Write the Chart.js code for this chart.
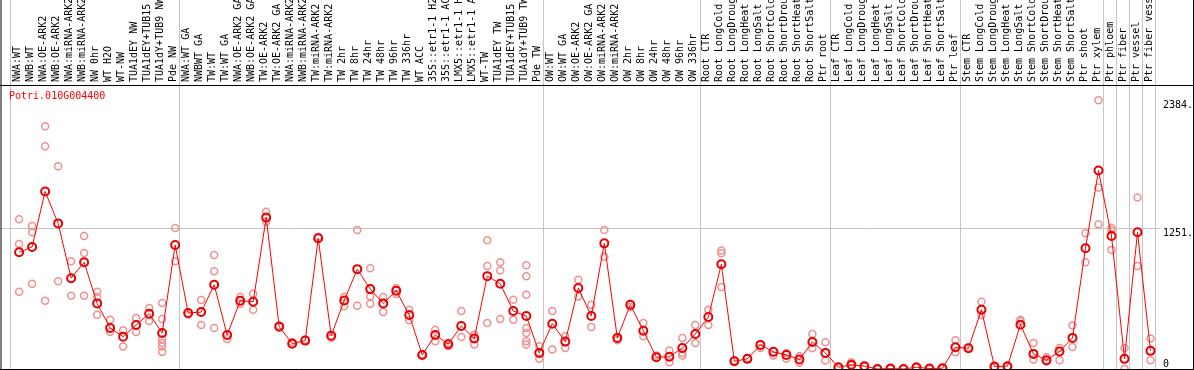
<!DOCTYPE html>
<html>
<head>
<meta charset="utf-8">
<script src="https://cdn.jsdelivr.net/npm/chart.js@4/dist/chart.umd.min.js"></script>
<style>
  body { margin: 0; background: #fff; }
  #wrap { position: relative; width: 1194px; height: 370px; }
  #gene { position: absolute; left: 9px; top: 90px; font: 10px "DejaVu Sans Mono", monospace; line-height: 12px; color: #ff0000; }
</style>
</head>
<body>
<div id="wrap">
  <canvas id="exprChart"></canvas>
  <div id="gene">Potri.010G004400</div>
</div>
<script>
// sample names, left to right
const samples = [
    'NWA:WT', 'NWB:WT', 'NWA:OE-ARK2', 'NWB:OE-ARK2', 'NWA:miRNA-ARK2', 'NWB:miRNA-ARK2', 'NW 0hr', 'WT H2O', 'WT-NW',
    'TUA1dEY NW', 'TUA1dEY+TUB15 NW', 'TUA1dY+TUB9 NW', 'Pde NW',
    'NWA:WT GA', 'NWBWT GA', 'TW:WT', 'TW:WT GA', 'NWA:OE-ARK2 GA', 'NWB:OE-ARK2 GA', 'TW:OE-ARK2', 'TW:OE-ARK2 GA',
    'NWA:miRNA-ARK2', 'NWB:miRNA-ARK2', 'TW:miRNA-ARK2', 'TW:miRNA-ARK2', 'TW 2hr', 'TW 8hr', 'TW 24hr', 'TW 48hr',
    'TW 96hr', 'TW 336hr', 'WT ACC', '35S::etr1-1 H2O', '35S::etr1-1 ACC', 'LMX5::etr1-1 H2O', 'LMX5::etr1-1 ACC',
    'WT-TW', 'TUA1dEY TW', 'TUA1dEY+TUB15 TW', 'TUA1dY+TUB9 TW', 'Pde TW',
    'OW:WT', 'OW:WT GA', 'OW:OE-ARK2', 'OW:OE-ARK2 GA', 'OW:miRNA-ARK2', 'OW:miRNA-ARK2', 'OW 2hr', 'OW 8hr',
    'OW 24hr', 'OW 48hr', 'OW 96hr', 'OW 336hr',
    'Root CTR', 'Root LongCold', 'Root LongDrought', 'Root LongHeat', 'Root LongSalt', 'Root ShortCold',
    'Root ShortDrought', 'Root ShortHeat', 'Root ShortSalt', 'Ptr root',
    'Leaf CTR', 'Leaf LongCold', 'Leaf LongDrought', 'Leaf LongHeat', 'Leaf LongSalt', 'Leaf ShortCold',
    'Leaf ShortDrought', 'Leaf ShortHeat', 'Leaf ShortSalt', 'Ptr leaf',
    'Stem CTR', 'Stem LongCold', 'Stem LongDrought', 'Stem LongHeat', 'Stem LongSalt', 'Stem ShortCold',
    'Stem ShortDrought', 'Stem ShortHeat', 'Stem ShortSalt', 'Ptr shoot', 'Ptr xylem',
    'Ptr phloem', 'Ptr fiber', 'Ptr vessel', 'Ptr fiber vessel'
];

// number of samples before each group separator
const groupEnds = [0, 13, 41, 53, 63, 73, 84, 85, 86, 87, 88];

// mean expression per sample
const meanValues = [
    1036, 1083, 1575, 1292, 806, 947, 582, 364, 287, 390, 491, 320, 1101,
    497, 505, 747, 302, 606, 597, 1345, 376, 225, 252, 1160, 296, 608, 886, 709, 582, 694,
    479, 125, 302, 220, 382, 270, 824, 756, 514, 470, 143,
    402, 243, 718, 470, 1115, 276, 570, 340, 105, 108, 187, 311,
    461, 930, 69, 90, 214, 152, 125, 84, 240, 143,
    16, 37, 25, 0, 4, 0, 16, 4, 7, 193,
    184, 526, 22, 25, 393, 134, 78, 155, 276, 1071, 1761,
    1180, 90, 1213, 161
];

// individual replicates per sample
const replicates = [
    [1328, 1109, 685], [1269, 1213, 756], [2153, 1976, 606], [1799, 779], [956, 650], [1180, 1030, 650],
    [685, 638, 482], [438, 329], [343, 199], [452, 329], [541, 426], [585, 444, 267, 231, 199, 152], [1251, 956],
    [482], [612, 390], [1012, 868, 364], [267], [638, 576], [668, 526], [1395, 1307], [385], [240], [260],
    [1174], [276], [638, 556], [1233, 562], [894, 644, 579], [638, 505], [718, 665], [526, 432], [130],
    [349, 246], [231, 202], [514, 284], [305, 217], [1142, 915, 408], [947, 874, 444], [615, 438],
    [921, 824, 659, 364, 320, 246, 217], [202, 90],
    [514, 172], [290, 187], [791, 644], [570, 373], [1233, 997], [255], [550], [408, 290], [119], [164, 60],
    [276, 143, 119], [390, 231],
    [526, 390], [1051, 1027, 727], [75], [95], [187], [119], [143, 90], [113, 55], [311, 187], [237, 75],
    [10], [60, 30], [20], [0], [0], [0], [10], [0], [4], [255, 149],
    [190], [597, 479], [15], [20], [438, 423], [231, 84], [105, 66], [187, 78], [385, 196], [1204, 947],
    [2384, 1611, 1284],
    [1254, 1233, 1057], [187, 0], [1522, 915], [270, 78]
];

// right-hand axis marks
const yTicks = [0, 1251, 2384];
const yTickLabels = ['0', '1251.', '2384.'];

const xMin = -1.392;
const xMax = 87.73;
const monoFont = { family: 'DejaVu Sans Mono', size: 10, lineHeight: 1 };

const meanPoints = meanValues.map((v, i) => ({ x: i, y: v }));
const repPoints = [];
replicates.forEach((list, i) => list.forEach(v => repPoints.push({ x: i, y: v })));

// drop the automatic label padding so the plot fills the frame
function noPadding(scale) {
    scale.paddingLeft = 0;
    scale.paddingRight = 0;
    scale.paddingTop = 0;
    scale.paddingBottom = 0;
}

// black frame round the plot and label strip
const framePlugin = {
    id: 'frame',
    afterDraw(chart) {
        const { ctx, chartArea, width } = chart;
        ctx.save();
        ctx.strokeStyle = '#000';
        ctx.lineWidth = 1;
        ctx.beginPath();
        ctx.moveTo(0, chartArea.top + 0.5);
        ctx.lineTo(width, chartArea.top + 0.5);
        ctx.moveTo(0, chartArea.bottom + 0.5);
        ctx.lineTo(width, chartArea.bottom + 0.5);
        ctx.moveTo(1, 0);
        ctx.lineTo(1, chartArea.bottom);
        ctx.moveTo(width - 0.5, 0);
        ctx.lineTo(width - 0.5, chartArea.bottom);
        ctx.stroke();
        ctx.restore();
    }
};

const ctx = document.getElementById('exprChart').getContext('2d');

new Chart(ctx, {
    type: 'line',
    data: {
        datasets: [{
            label: 'Potri.010G004400',
            data: meanPoints,
            borderColor: '#ff0000',
            borderWidth: 1,
            pointRadius: 4,
            pointBorderWidth: 2,
            pointBorderColor: '#e80000',
            pointBackgroundColor: 'rgba(0,0,0,0)',
            tension: 0,
            order: 0
        }, {
            type: 'scatter',
            label: 'replicates',
            data: repPoints,
            showLine: false,
            pointRadius: 3.5,
            pointBorderWidth: 1.5,
            borderColor: '#f09090',
            backgroundColor: 'rgba(0,0,0,0)',
            order: 1
        }]
    },
    options: {
        responsive: true,
        maintainAspectRatio: false,
        animation: false,
        layout: { autoPadding: false, padding: { left: 1, bottom: 1, top: 0, right: 0 } },
        plugins: {
            legend: { display: false },
            tooltip: { enabled: false }
        },
        scales: {
            x: {
                type: 'linear',
                position: 'top',
                weight: 1,
                min: xMin,
                max: xMax,
                afterBuildTicks: (scale) => { scale.ticks = samples.map((_, i) => ({ value: i })); },
                afterFit: (scale) => { scale.height = 85; noPadding(scale); },
                ticks: {
                    autoSkip: false,
                    minRotation: 90,
                    maxRotation: 90,
                    padding: 3,
                    labelOffset: 8.5,
                    color: '#000',
                    font: monoFont,
                    callback: (value) => samples[value]
                },
                grid: { display: false, drawTicks: false },
                border: { display: false }
            },
            xs: {
                type: 'linear',
                position: 'top',
                weight: 0,
                min: xMin,
                max: xMax,
                afterBuildTicks: (scale) => { scale.ticks = groupEnds.map(n => ({ value: n - 0.64 })); },
                afterFit: (scale) => { scale.height = 0; noPadding(scale); },
                ticks: { display: false },
                grid: { color: '#c4c4c4', lineWidth: 1, drawTicks: true, tickLength: 85 },
                border: { display: false }
            },
            y: {
                type: 'linear',
                position: 'right',
                min: 0,
                max: 2520,
                afterBuildTicks: (scale) => { scale.ticks = yTicks.map(v => ({ value: v })); },
                afterFit: (scale) => { scale.width = 34; noPadding(scale); },
                ticks: {
                    padding: 3,
                    color: '#000',
                    font: monoFont,
                    callback: (value) => {
                        const text = yTickLabels[yTicks.indexOf(value)];
                        return value === 0 ? [text, ''] : ['', text];
                    }
                },
                grid: {
                    drawTicks: false,
                    color: (c) => (c.tick && c.tick.value === 1251 ? '#c4c4c4' : 'rgba(0,0,0,0)')
                },
                border: { display: false }
            }
        }
    },
    plugins: [framePlugin]
});
</script>
</body>
</html>
